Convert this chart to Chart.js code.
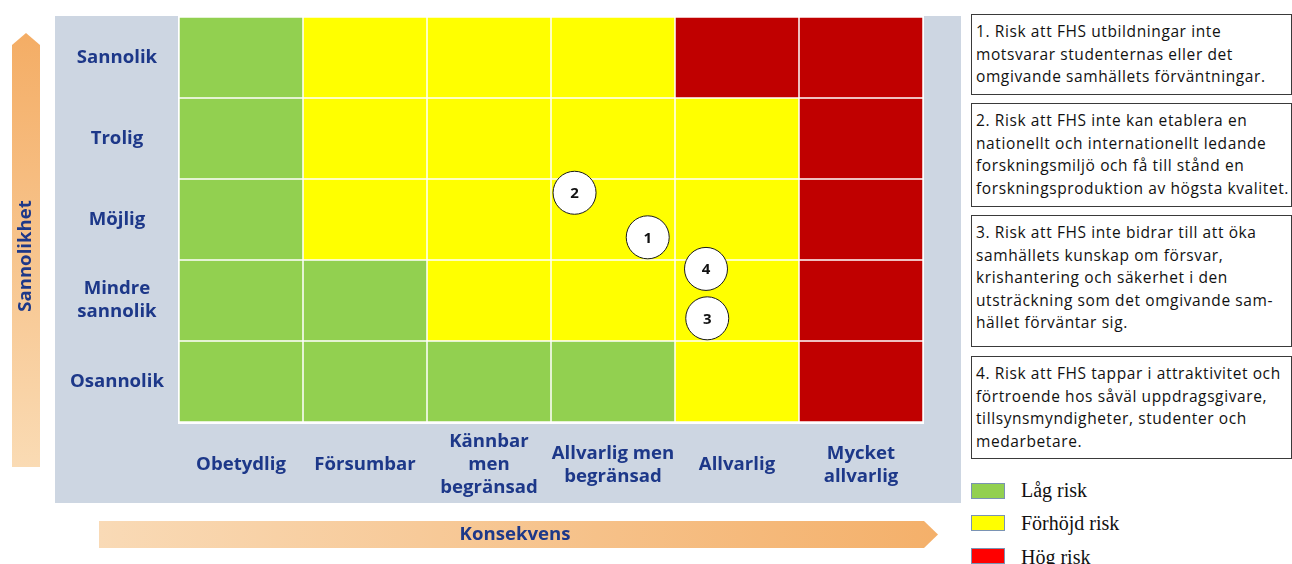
<!DOCTYPE html>
<html><head><meta charset="utf-8">
<script src="https://cdn.jsdelivr.net/npm/chart.js@4.4.1/dist/chart.umd.min.js"></script>
<style>
html,body{margin:0;padding:0;background:#fff;width:1292px;height:564px;overflow:hidden;}
#wrap{position:absolute;left:0;top:0;width:965px;height:564px;}
.box{position:absolute;left:971px;width:321px;border:1px solid #3a3a3a;font-family:'Open Sans','Noto Sans',sans-serif;font-size:15.5px;letter-spacing:0.6px;line-height:22.5px;color:#111;padding:5px 0 0 4px;box-sizing:border-box;white-space:nowrap;overflow:hidden;}
.sw{position:absolute;left:971px;width:34px;height:16px;box-sizing:border-box;border:1px solid #7a93b3;}
.lt{position:absolute;left:1021px;font-family:'Liberation Serif','Times New Roman',serif;font-size:20px;line-height:20px;color:#111;white-space:nowrap;}
</style>
</head><body>
<div id="wrap"><canvas id="c"></canvas></div>
<div class="box" style="top:14px;height:81px">1. Risk att FHS utbildningar inte<br>motsvarar studenternas eller det<br>omgivande samhällets förväntningar.</div>
<div class="box" style="top:103px;height:104px">2. Risk att FHS inte kan etablera en<br>nationellt och internationellt ledande<br>forskningsmiljö och få till stånd en<br>forskningsproduktion av högsta kvalitet.</div>
<div class="box" style="top:215px;height:132px">3. Risk att FHS inte bidrar till att öka<br>samhällets kunskap om försvar,<br>krishantering och säkerhet i den<br>utsträckning som det omgivande sam-<br>hället förväntar sig.</div>
<div class="box" style="top:356px;height:103px">4. Risk att FHS tappar i attraktivitet och<br>förtroende hos såväl uppdragsgivare,<br>tillsynsmyndigheter, studenter och<br>medarbetare.</div>
<div class="sw" style="top:483px;background:#92d050"></div><div class="lt" style="top:480px">Låg risk</div>
<div class="sw" style="top:515px;background:#ffff00"></div><div class="lt" style="top:513px">Förhöjd risk</div>
<div class="sw" style="top:548px;background:#ff0000"></div><div class="lt" style="top:547px">Hög risk</div>
<script>
// ---- data ----
const consequenceLabels = [['Obetydlig'], ['Försumbar'], ['Kännbar', 'men', 'begränsad'], ['Allvarlig men', 'begränsad'], ['Allvarlig'], ['Mycket', 'allvarlig']];
const likelihoodLabels = [['Osannolik'], ['Mindre', 'sannolik'], ['Möjlig'], ['Trolig'], ['Sannolik']]; // bottom to top
// risk level per cell, rows bottom (Osannolik) to top (Sannolik), columns = consequence
const riskMatrix = [
  ['L', 'L', 'L', 'L', 'M', 'H'],
  ['L', 'L', 'M', 'M', 'M', 'H'],
  ['L', 'M', 'M', 'M', 'M', 'H'],
  ['L', 'M', 'M', 'M', 'M', 'H'],
  ['L', 'M', 'M', 'M', 'H', 'H']
];
const riskColors = {L: '#92d050', M: '#ffff00', H: '#c00000'};
const riskIds = ['1', '2', '3', '4'];
const riskConsequence = [3.78, 3.19, 4.26, 4.25];
const riskLikelihood = [2.28, 2.83, 1.28, 1.89];
const axisTitleX = 'Konsekvens';
const axisTitleY = 'Sannolikhet';

const labelColor = '#1d3889';
const labelFont = {family: "'Open Sans', 'Noto Sans', sans-serif", size: 18.6, weight: '700', lineHeight: 1.24};

const matrixPlugin = {
  id: 'matrix',
  beforeDraw(chart) {
    const ctx = chart.ctx;
    ctx.save();
    ctx.fillStyle = '#cdd6e2';
    ctx.fillRect(55, 16, 906, 487);
    let g = ctx.createLinearGradient(0, 33, 0, 467);
    g.addColorStop(0, '#f4ad65'); g.addColorStop(1, '#fadbb4');
    ctx.fillStyle = g;
    ctx.beginPath();
    ctx.moveTo(12, 467); ctx.lineTo(12, 45); ctx.lineTo(26, 33); ctx.lineTo(40, 45); ctx.lineTo(40, 467); ctx.closePath();
    ctx.fill();
    g = ctx.createLinearGradient(99, 0, 938, 0);
    g.addColorStop(0, '#f9dab6'); g.addColorStop(1, '#f4b06a');
    ctx.fillStyle = g;
    ctx.beginPath();
    ctx.moveTo(99, 521); ctx.lineTo(924, 521); ctx.lineTo(938, 534.5); ctx.lineTo(924, 548); ctx.lineTo(99, 548); ctx.closePath();
    ctx.fill();
    ctx.fillStyle = labelColor;
    ctx.font = "700 18.6px 'Open Sans', 'Noto Sans', sans-serif";
    ctx.textAlign = 'center'; ctx.textBaseline = 'middle';
    ctx.fillText(axisTitleX, 515, 535);
    ctx.translate(26, 256); ctx.rotate(-Math.PI / 2);
    ctx.fillText(axisTitleY, 0, 0);
    ctx.restore();
  },
  beforeDatasetsDraw(chart) {
    const {ctx, scales: {x, y}} = chart;
    ctx.save();
    const L = x.getPixelForValue(0), R = x.getPixelForValue(6);
    const T = y.getPixelForValue(5), B = y.getPixelForValue(0);
    ctx.fillStyle = '#ffffff';
    ctx.fillRect(L - 1, T - 1, R - L + 2, B - T + 3);
    riskMatrix.forEach((row, r) => {
      row.forEach((lvl, c) => {
        const x0 = x.getPixelForValue(c), x1 = x.getPixelForValue(c + 1);
        const y0 = y.getPixelForValue(r + 1), y1 = y.getPixelForValue(r);
        ctx.fillStyle = riskColors[lvl];
        ctx.fillRect(x0 + 0.75, y0 + 0.75, x1 - x0 - 1.5, y1 - y0 - 1.5);
      });
    });
    ctx.restore();
  },
  afterDatasetsDraw(chart) {
    const ctx = chart.ctx;
    const meta = chart.getDatasetMeta(0);
    ctx.save();
    ctx.fillStyle = '#111';
    ctx.font = "700 15px 'Open Sans', 'Liberation Sans', sans-serif";
    ctx.textAlign = 'center'; ctx.textBaseline = 'middle';
    meta.data.forEach((pt, i) => ctx.fillText(riskIds[i], pt.x, pt.y + 1));
    ctx.restore();
  }
};

new Chart(document.getElementById('c'), {
  type: 'scatter',
  data: {
    datasets: [{
      data: riskIds.map((id, i) => ({x: riskConsequence[i], y: riskLikelihood[i]})),
      pointRadius: 21.5,
      pointHoverRadius: 21.5,
      backgroundColor: '#ffffff',
      borderColor: '#1a1a1a',
      borderWidth: 1
    }]
  },
  options: {
    responsive: true,
    maintainAspectRatio: false,
    devicePixelRatio: 1,
    animation: false,
    layout: {autoPadding: false, padding: {left: 55, top: 17, right: 42, bottom: 61}},
    plugins: {legend: {display: false}, tooltip: {enabled: false}},
    scales: {
      x: {
        type: 'linear', position: 'bottom', min: 0, max: 6,
        grid: {display: false}, border: {display: false},
        afterBuildTicks: s => { s.ticks = consequenceLabels.map((_, i) => ({value: i + 0.5})); },
        afterFit: s => { s.height = 81; s.paddingLeft = 0; s.paddingRight = 0; },
        ticks: {
          autoSkip: false, maxRotation: 0, minRotation: 0, crossAlign: 'center', padding: 12,
          color: labelColor, font: labelFont,
          callback: (v) => consequenceLabels[Math.floor(v)]
        }
      },
      y: {
        type: 'linear', position: 'left', min: 0, max: 5,
        grid: {display: false}, border: {display: false},
        afterBuildTicks: s => { s.ticks = likelihoodLabels.map((_, i) => ({value: i + 0.5})); },
        afterFit: s => { s.width = 124; s.paddingTop = 0; s.paddingBottom = 0; },
        ticks: {
          autoSkip: false, crossAlign: 'center', padding: 7,
          color: labelColor, font: labelFont,
          callback: (v) => likelihoodLabels[Math.floor(v)]
        }
      }
    }
  },
  plugins: [matrixPlugin]
});
</script>
</body></html>
